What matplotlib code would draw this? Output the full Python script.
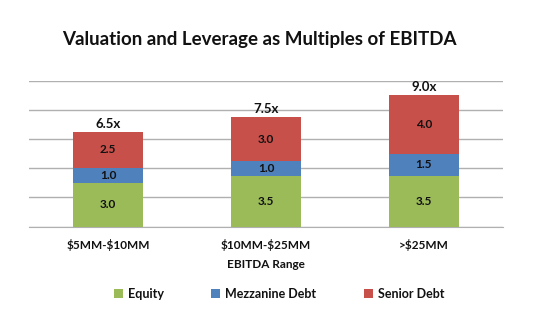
import matplotlib.pyplot as plt
import numpy as np
from matplotlib.patches import Patch

plt.rcParams['font.family'] = ['Lato', 'DejaVu Sans']
plt.rcParams['text.parse_math'] = False

categories = ["$5MM-$10MM", "$10MM-$25MM", ">$25MM"]
equity = [3.0, 3.5, 3.5]
mezzanine = [1.0, 1.0, 1.5]
senior = [2.5, 3.0, 4.0]
series_names = ["Equity", "Mezzanine Debt", "Senior Debt"]
colors = ["#9BBB59", "#4F81BD", "#C8504B"]

fig = plt.figure(figsize=(5.42, 3.29), dpi=100)
ax = fig.add_axes([0.0535, 0.311, 0.8745, 0.444])

x = np.arange(len(categories))
width = 0.443
bottom = np.zeros(len(categories))
for vals, c in zip([equity, mezzanine, senior], colors):
    ax.bar(x, vals, width, bottom=bottom, color=c, zorder=3)
    for xi, b, v in zip(x, bottom, vals):
        ax.text(xi, b + v / 2, f"{v:.1f}", ha="center", va="center",
                fontsize=8.5, fontweight="bold", color="#111111", zorder=4)
    bottom += np.array(vals)

for xi, t in zip(x, bottom):
    ax.text(xi, t + 0.15, f"{t:.1f}x", ha="center", va="bottom",
            fontsize=9.5, fontweight="bold", color="#111111")

ax.set_xlim(-0.5, 2.5)
ax.set_ylim(0, 10)
ax.set_yticks(np.arange(0, 11, 2))
ax.yaxis.grid(True, color="#b0b0b0", linewidth=1, zorder=0)
ax.tick_params(axis="y", left=False, labelleft=False)
ax.tick_params(axis="x", length=0, pad=9)
ax.set_xticks(x)
ax.set_xticklabels(categories, fontsize=8.5, fontweight="bold", color="#111111")
for s in ["top", "right", "left"]:
    ax.spines[s].set_visible(False)
ax.spines["bottom"].set_color("#b0b0b0")

fig.text(0.49, 1 - 264 / 329, "EBITDA Range", ha="center", va="center",
         fontsize=8.5, fontweight="bold", color="#111111")
fig.text(0.478, 1 - 40 / 329, "Valuation and Leverage as Multiples of EBITDA",
         ha="center", va="center", fontsize=13.5, fontweight="bold", color="#111111")

handles = [Patch(facecolor=c, label=n) for c, n in zip(colors, series_names)]
fig.legend(handles=handles, loc="center", bbox_to_anchor=(0.515, 1 - 294 / 329),
           ncol=3, frameon=False, prop={"weight": "bold", "size": 9},
           handlelength=0.7, handleheight=0.7, handletextpad=0.4, columnspacing=3.8,
           labelcolor="#111111")

fig.savefig("out.png", dpi=100)
